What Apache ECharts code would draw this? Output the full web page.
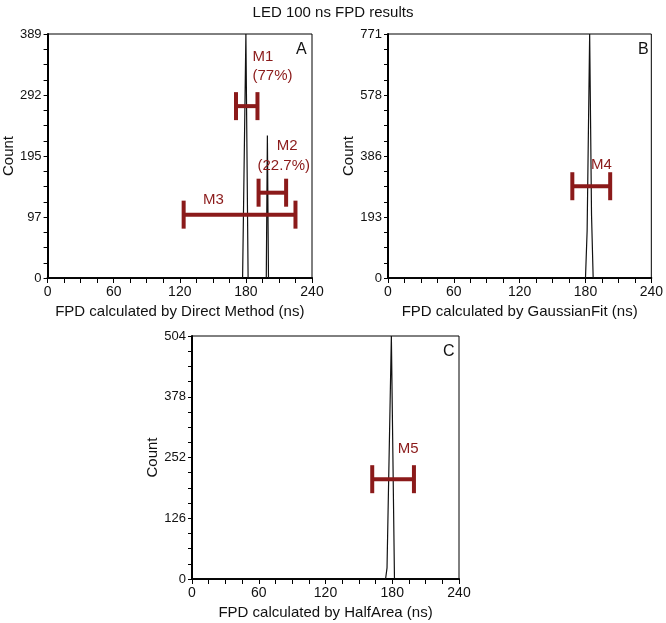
<!DOCTYPE html>
<html>
<head>
<meta charset="utf-8">
<script src="https://cdn.jsdelivr.net/npm/echarts@6/dist/echarts.min.js"></script>
<style>
  html, body { margin: 0; padding: 0; background: #fff; }
  #chart { width: 666px; height: 623px; }
</style>
</head>
<body>
<div id="chart"></div>
<script>
// panel A: direct method histogram
const fpdDirect = [0, 158.5, 159.5, 160.5, 177, 180, 182, 198.5, 199.5, 200.5, 240];
const countDirect = [0, 0, 3, 0, 0, 389, 0, 0, 227, 0, 0];
// panel B: gaussian fit histogram
const fpdGauss = [0, 180, 181.5, 183.8, 185.5, 187, 240];
const countGauss = [0, 0, 150, 771, 200, 0, 0];
// panel C: half area histogram
const fpdHalf = [0, 174, 175.3, 179.2, 182, 240];
const countHalf = [0, 0, 23, 504, 0, 0];

const yMax = [389, 771, 504];
const xTicks = [0, 60, 120, 180, 240];

// ranges: [low, high, count]
const rangesA = [[171, 190.5, 274], [191.5, 216.5, 136], [123.5, 225, 101]];
const rangesB = [[168, 202.5, 290]];
const rangesC = [[162, 199.5, 207]];

// labels: [fpd, count, text]
const labelsA = [[186, 352, 'M1'], [186, 322, '(77%)'], [208, 210, 'M2'], [190.5, 178, '(22.7%)'], [141, 124, 'M3']];
const labelsB = [[185, 357, 'M4']];
const labelsC = [[185, 270, 'M5']];

const xNames = ['FPD calculated by Direct Method (ns)', 'FPD calculated by GaussianFit (ns)', 'FPD calculated by HalfArea (ns)'];
const panelLetters = ['A', 'B', 'C'];

const FONT = 'Liberation Sans, Arial, sans-serif';
const RED = '#8b1a1a';

const grids = [
  { left: 46, top: 34, width: 266, height: 244 },
  { left: 388, top: 34, width: 266, height: 244 },
  { left: 192, top: 336, width: 267, height: 243 }
];

function pairs(xs, ys) {
  return xs.map((x, i) => [x, ys[i]]);
}

function renderRange(params, api) {
  const lo = api.coord([api.value(0), api.value(2)]);
  const hi = api.coord([api.value(1), api.value(2)]);
  const cap = 14;
  const style = { stroke: RED, lineWidth: 4 };
  return {
    type: 'group',
    children: [
      { type: 'line', shape: { x1: lo[0], y1: lo[1], x2: hi[0], y2: hi[1] }, style },
      { type: 'line', shape: { x1: lo[0], y1: lo[1] - cap, x2: lo[0], y2: lo[1] + cap }, style },
      { type: 'line', shape: { x1: hi[0], y1: hi[1] - cap, x2: hi[0], y2: hi[1] + cap }, style }
    ]
  };
}

function renderLabel(params, api) {
  const p = api.coord([api.value(0), api.value(1)]);
  return {
    type: 'text',
    x: p[0],
    y: p[1],
    style: {
      text: api.value(2),
      fill: RED,
      fontSize: 15,
      fontFamily: FONT,
      align: 'left',
      verticalAlign: 'middle'
    }
  };
}

const xAxes = grids.map((g, i) => ({
  type: 'value',
  gridIndex: i,
  min: xTicks[0],
  max: xTicks[xTicks.length - 1],
  interval: xTicks[1] - xTicks[0],
  name: xNames[i],
  nameLocation: 'middle',
  nameGap: 26,
  nameTextStyle: { fontSize: 15, fontFamily: FONT, color: '#111' },
  axisLine: { lineStyle: { color: '#000', width: 2 } },
  axisTick: { length: 5, lineStyle: { color: '#000' } },
  minorTick: { show: true, splitNumber: 4, length: 5, lineStyle: { color: '#000' } },
  splitLine: { show: false },
  axisLabel: { fontSize: 14, fontFamily: FONT, color: '#111', margin: 7 }
}));

const yAxes = grids.map((g, i) => ({
  type: 'value',
  gridIndex: i,
  min: 0,
  max: yMax[i],
  interval: yMax[i] / 4,
  name: 'Count',
  nameLocation: 'middle',
  nameGap: 30,
  nameTextStyle: { fontSize: 15, fontFamily: FONT, color: '#111' },
  axisLine: { show: true, lineStyle: { color: '#000', width: 2 } },
  axisTick: { show: true, length: 4, lineStyle: { color: '#000' } },
  minorTick: { show: true, splitNumber: 4, length: 4, lineStyle: { color: '#000' } },
  splitLine: { show: false },
  axisLabel: {
    fontSize: 13, fontFamily: FONT, color: '#111', margin: 6,
    formatter: v => String(Math.round(v))
  }
}));

const lineData = [pairs(fpdDirect, countDirect), pairs(fpdGauss, countGauss), pairs(fpdHalf, countHalf)];
const rangeData = [rangesA, rangesB, rangesC];
const labelData = [labelsA, labelsB, labelsC];

const series = [];
for (let i = 0; i < 3; i++) {
  series.push({
    type: 'line',
    xAxisIndex: i,
    yAxisIndex: i,
    data: lineData[i],
    showSymbol: false,
    lineStyle: { color: '#111', width: 1.2 },
    z: 3
  });
  series.push({
    type: 'custom',
    xAxisIndex: i,
    yAxisIndex: i,
    data: rangeData[i],
    encode: { x: [0, 1], y: 2 },
    renderItem: renderRange,
    z: 4
  });
  series.push({
    type: 'custom',
    xAxisIndex: i,
    yAxisIndex: i,
    data: labelData[i],
    encode: { x: 0, y: 1 },
    renderItem: renderLabel,
    z: 5
  });
}

const titles = [{
  text: 'LED 100 ns FPD results',
  left: 'center',
  top: 0,
  textStyle: { fontSize: 15, fontWeight: 'normal', fontFamily: FONT, color: '#111' }
}].concat(grids.map((g, i) => ({
  text: panelLetters[i],
  left: g.left + g.width - 21,
  top: g.top + 3,
  textStyle: { fontSize: 16, fontWeight: 'normal', fontFamily: FONT, color: '#111' }
})));

const chart = echarts.init(document.getElementById('chart'), null, { renderer: 'canvas' });
chart.setOption({
  animation: false,
  backgroundColor: '#fff',
  title: titles,
  grid: grids.map(g => Object.assign({ show: true, borderColor: '#000', borderWidth: 1, backgroundColor: 'transparent' }, g)),
  xAxis: xAxes,
  yAxis: yAxes,
  series: series
});
</script>
</body>
</html>
